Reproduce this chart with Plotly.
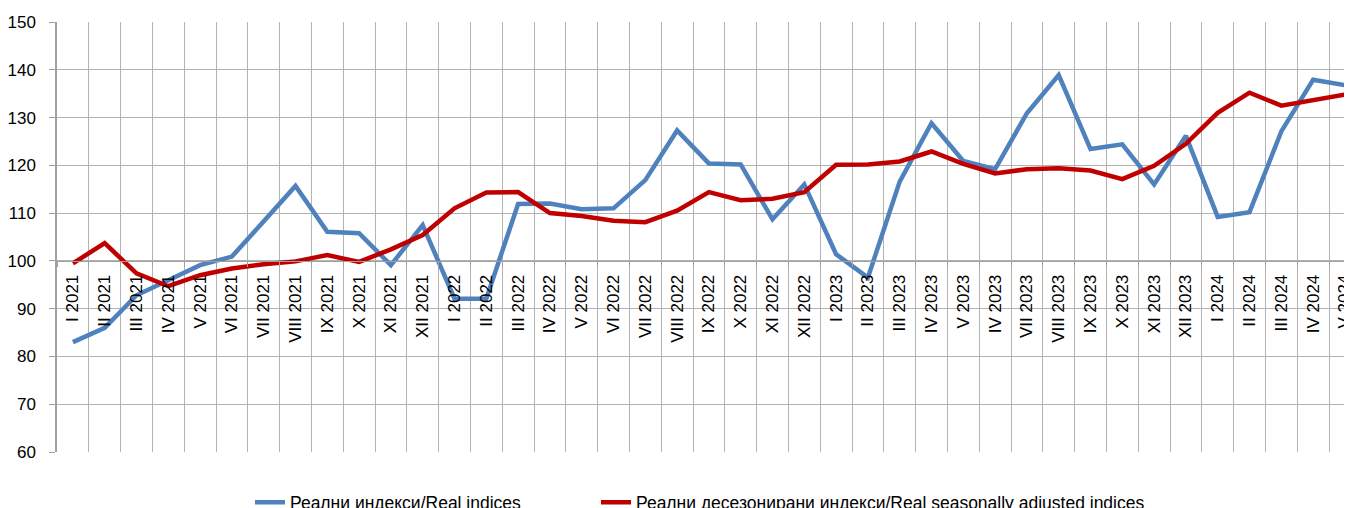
import plotly.graph_objects as go

categories = [
    "I 2021", "II 2021", "III 2021", "IV 2021", "V 2021", "VI 2021", "VII 2021", "VIII 2021",
    "IX 2021", "X 2021", "XI 2021", "XII 2021",
    "I 2022", "II 2022", "III 2022", "IV 2022", "V 2022", "VI 2022", "VII 2022", "VIII 2022",
    "IX 2022", "X 2022", "XI 2022", "XII 2022",
    "I 2023", "II 2023", "III 2023", "IV 2023", "V 2023", "IV 2023", "VII 2023", "VIII 2023",
    "IX 2023", "X 2023", "XI 2023", "XII 2023",
    "I 2024", "II 2024", "III 2024", "IV 2024", "V 2024",
]

real_indices = [
    83.0, 86.0, 92.8, 96.0, 99.1, 100.9, 108.4, 115.7, 106.1, 105.8, 99.1, 107.5,
    92.1, 92.1, 111.9, 112.0, 110.8, 111.0, 116.9, 127.3, 120.4, 120.2, 108.7, 116.0,
    101.4, 96.5, 116.6, 128.8, 120.9, 119.2, 130.9, 138.9, 123.4, 124.4, 116.0, 126.2,
    109.2, 110.2, 127.1, 137.9, 136.8,
]

real_sa_indices = [
    99.5, 103.7, 97.4, 94.7, 97.0, 98.4, 99.3, 99.9, 101.2, 99.8, 102.4, 105.4,
    111.0, 114.3, 114.4, 110.0, 109.4, 108.4, 108.1, 110.5, 114.4, 112.7, 113.0, 114.4,
    120.1, 120.2, 120.8, 122.9, 120.3, 118.3, 119.2, 119.4, 118.9, 117.1, 119.9, 124.5,
    131.0, 135.2, 132.5, 133.7, 134.8,
]

series_names = [
    "Реални индекси/Real indices",
    "Реални десезонирани индекси/Real seasonally adjusted indices",
]

y_ticks = [60, 70, 80, 90, 100, 110, 120, 130, 140, 150]

FONT = "Liberation Sans, Arial, sans-serif"
GRID = "#B3B3B3"

x_pos = list(range(len(categories)))

fig = go.Figure()
fig.add_trace(go.Scatter(
    x=x_pos, y=real_indices, mode="lines", name=series_names[0],
    line=dict(color="#4F81BD", width=4.5), legend="legend",
))
fig.add_trace(go.Scatter(
    x=x_pos, y=real_sa_indices, mode="lines", name=series_names[1],
    line=dict(color="#C00000", width=4.5), legend="legend2",
))

# page body adds an 8px offset; plot area should start at x=57, y=22 on screen
L, T, PLOT_H = 49, 14, 430
plot_w = 1352 - L
x_end = -0.5 + plot_w / 31.8
LEG_Y = -0.075


def leg_x(screen_x):
    return (screen_x - 57) / plot_w


legend_common = dict(
    orientation="h", xanchor="left", y=LEG_Y, yanchor="top",
    font=dict(family=FONT, size=17.5, color="black"),
    bgcolor="rgba(0,0,0,0)",
)

fig.update_layout(
    width=1352, height=508,
    margin=dict(l=L, r=0, t=T, b=508 - T - PLOT_H, autoexpand=False),
    paper_bgcolor="white", plot_bgcolor="white",
    font=dict(family=FONT, size=17, color="black"),
    showlegend=True,
    legend=dict(x=leg_x(250), **legend_common),
    legend2=dict(x=leg_x(596), **legend_common),
    xaxis=dict(
        range=[-0.5, x_end], automargin=False,
        tickmode="array", tickvals=x_pos, ticktext=categories,
        tickangle=-90, ticks="", showgrid=False, zeroline=False,
        anchor="free", position=(100 - 60) / (150 - 60),
        showline=True, linecolor="#A0A0A0", linewidth=1,
        ticklabelstandoff=6, ticklabeloverflow="allow",
        tickfont=dict(family=FONT, size=17, color="black"),
        minor=dict(tick0=-0.5, dtick=1, showgrid=True, gridcolor=GRID, gridwidth=1.2,
                   ticks="outside", ticklen=5, tickcolor="#A0A0A0"),
    ),
    yaxis=dict(
        range=[60, 150], tickvals=y_ticks, showgrid=True, gridcolor=GRID, gridwidth=1.2,
        automargin=False,
        zeroline=False, showline=True, linecolor="#A0A0A0", linewidth=1.5,
        ticks="outside", ticklen=6, tickcolor="#A0A0A0",
        ticklabelstandoff=10,
        tickfont=dict(family=FONT, size=17, color="black"),
    ),
)

fig.write_html("out.html")
